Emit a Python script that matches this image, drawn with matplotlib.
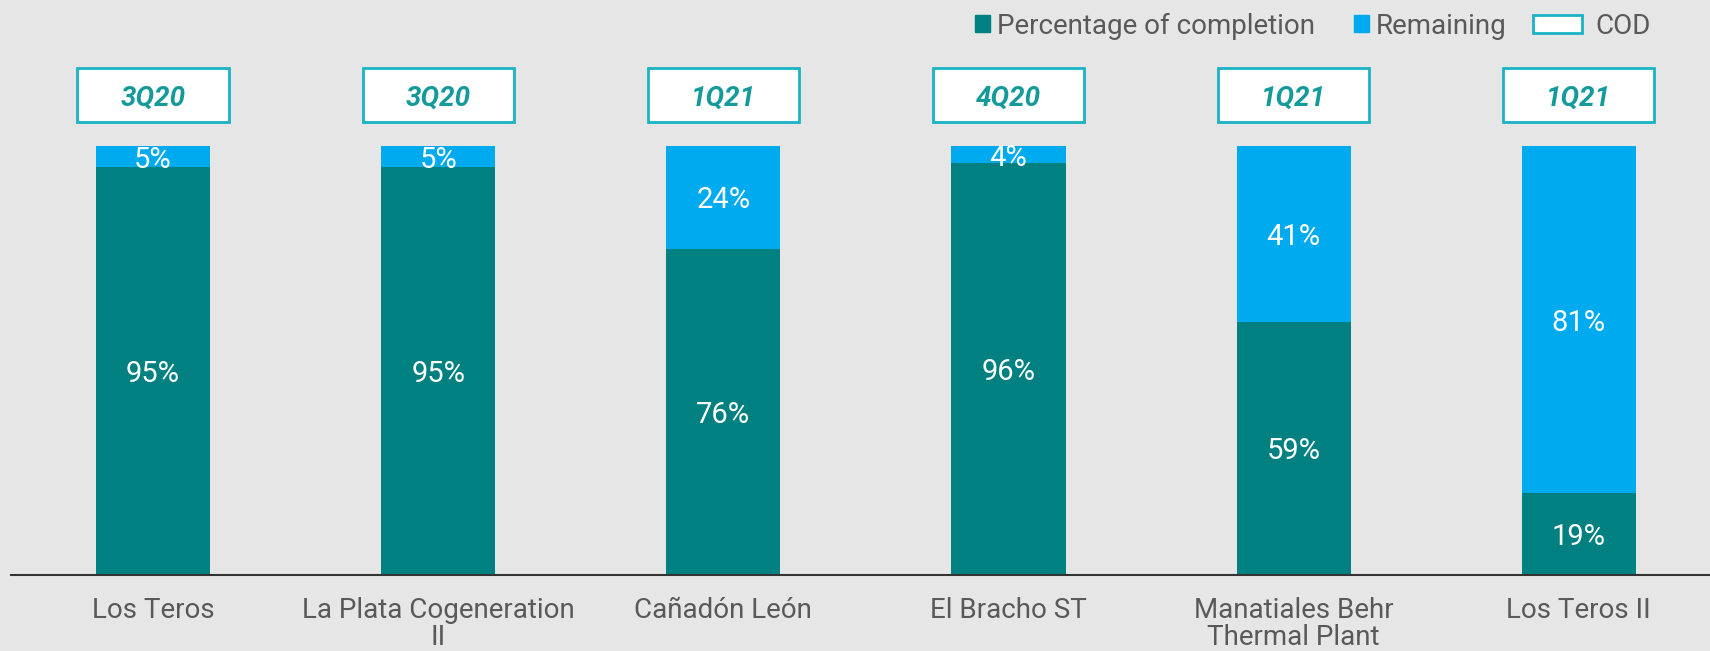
import numpy as np
import matplotlib.pyplot as plt
from matplotlib.patches import Patch, Rectangle

plt.rcParams['font.family'] = ['Roboto', 'DejaVu Sans']

projects = ['Los Teros', 'La Plata Cogeneration\nII', 'Cañadón León',
            'El Bracho ST', 'Manatiales Behr\nThermal Plant', 'Los Teros II']
completion = [95, 95, 76, 96, 59, 19]
remaining = [5, 5, 24, 4, 41, 81]
cod = ['3Q20', '3Q20', '1Q21', '4Q20', '1Q21', '1Q21']

teal = '#008080'
blue = '#00aaee'
box_edge = '#1ab3c4'
bg = '#e6e6e6'
grey_txt = '#595959'

fig = plt.figure(figsize=(17.1, 6.51), dpi=100, facecolor=bg)
ax = fig.add_axes([11 / 1710, 76 / 651, 1 - 11 / 1710, 575 / 651])
ax.set_facecolor(bg)

x = np.arange(len(projects))
w = 0.4
b1 = ax.bar(x, completion, w, color=teal)
b2 = ax.bar(x, remaining, w, bottom=completion, color=blue)

for bars in (b1, b2):
    txts = ax.bar_label(bars, labels=[f'{v:.0f}%' for v in bars.datavalues],
                        label_type='center', color='white', fontsize=21)
    for t in txts:
        t.set_va('center_baseline')

# COD boxes above each bar
bw = 0.53
for xi, c in zip(x, cod):
    ax.add_patch(Rectangle((xi - bw / 2, 105.6), bw, 12.6, facecolor='white',
                           edgecolor=box_edge, lw=2, clip_on=False))
    ax.text(xi, 111.9, c, ha='center', va='center_baseline', color='#159a9c',
            fontsize=20, fontweight='bold', fontstyle='italic')

ax.set_xlim(-0.498, 5.46)
ax.set_ylim(0, 100 * 575 / 429)
ax.set_xticks(x)
ax.set_xticklabels(projects, fontsize=20, color=grey_txt, linespacing=1.0)
ax.tick_params(axis='x', length=0, pad=16)
ax.set_yticks([])
for s in ['top', 'right', 'left']:
    ax.spines[s].set_visible(False)
ax.spines['bottom'].set_color('#333333')
ax.spines['bottom'].set_linewidth(1.5)

ly = 1 - 26 / 651
leg1 = fig.legend(handles=[Patch(color=teal), Patch(color=blue)],
                  labels=['Percentage of completion', 'Remaining'],
                  loc='center right', bbox_to_anchor=(1507 / 1710, ly), ncol=2,
                  frameon=False, fontsize=20, handlelength=0.54, handleheight=0.54,
                  handletextpad=0.25, columnspacing=1.4, borderpad=0,
                  borderaxespad=0)
leg2 = fig.legend(handles=[Patch(facecolor='white', edgecolor=box_edge, lw=2)],
                  labels=['COD'], loc='center left',
                  bbox_to_anchor=(1533 / 1710, ly), frameon=False, fontsize=20,
                  handlelength=1.76, handleheight=0.6, handletextpad=0.5,
                  borderpad=0, borderaxespad=0)
for lg in (leg1, leg2):
    for t in lg.get_texts():
        t.set_color(grey_txt)

fig.savefig('out.png', dpi=100, facecolor=bg)
